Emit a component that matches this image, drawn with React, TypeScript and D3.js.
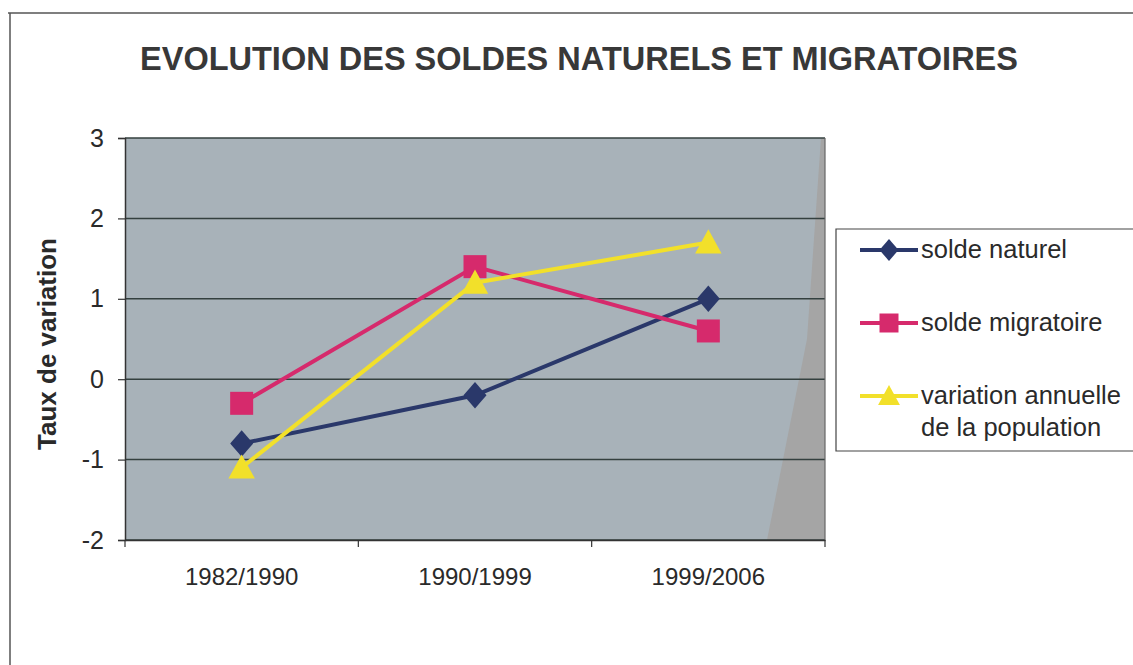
import { useEffect, useRef } from 'react';
import * as d3 from 'd3';

const periods = ['1982/1990', '1990/1999', '1999/2006'];
const soldeNaturel = [-0.8, -0.2, 1.0];
const soldeMigratoire = [-0.3, 1.4, 0.6];
const variationAnnuelle = [-1.1, 1.2, 1.7];
const yTicks = [-2, -1, 0, 1, 2, 3];

const seriesNames = ['solde naturel', 'solde migratoire', 'variation annuelle|de la population'];

// marker shapes, sized like the old Excel markers
const diamond = (r: number) => `M0,${-r * 1.15}L${r},0L0,${r * 1.15}L${-r},0Z`;
const square = (r: number) => `M${-r},${-r}H${r}V${r}H${-r}Z`;
const triangle = (r: number) => `M0,${-r * 1.15}L${r * 1.15},${r * 0.95}H${-r * 1.15}Z`;

export default function App() {
  const svgRef = useRef<SVGSVGElement>(null);

  useEffect(() => {
    const svg = d3.select(svgRef.current);
    svg.selectAll('*').remove();

    const width = 1133;
    const height = 665;
    const margin = { top: 138, right: 308, bottom: 125, left: 125 };
    const font = 'Liberation Sans, Arial, sans-serif';

    const x = d3.scaleBand<string>()
      .domain(periods)
      .range([margin.left, width - margin.right]);

    const y = d3.scaleLinear()
      .domain([-2, 3])
      .range([height - margin.bottom, margin.top]);

    // outer frame (scanned page edge)
    svg.append('path')
      .attr('d', `M8,13 H${width} M10,13 V${height}`)
      .attr('stroke', '#555')
      .attr('stroke-width', 1.5)
      .attr('fill', 'none');

    // title
    svg.append('text')
      .attr('x', 579)
      .attr('y', 70)
      .attr('text-anchor', 'middle')
      .attr('font-family', 'Liberation Sans Narrow, ' + font)
      .attr('font-weight', 'bold')
      .attr('font-size', 34)
      .attr('fill', '#383838')
      .attr('textLength', 878)
      .attr('lengthAdjust', 'spacingAndGlyphs')
      .text('EVOLUTION DES SOLDES NATURELS ET MIGRATOIRES');

    // plot background
    const x0 = margin.left;
    const x1 = width - margin.right;
    svg.append('rect')
      .attr('x', x0)
      .attr('y', y(3))
      .attr('width', x1 - x0)
      .attr('height', y(-2) - y(3))
      .attr('fill', '#a8b2b9');

    // lighter grey scan shading on the right edge
    svg.append('path')
      .attr('d', `M${x1 - 4},${y(3)} L${x1},${y(3)} L${x1},${y(-2)} L${x1 - 58},${y(-2)} L${x1 - 18},${y(0.5)} Z`)
      .attr('fill', '#a5a5a5');

    // gridlines
    svg.append('g')
      .selectAll('line')
      .data(yTicks)
      .join('line')
      .attr('x1', x0)
      .attr('x2', x1)
      .attr('y1', d => y(d))
      .attr('y2', d => y(d))
      .attr('stroke', '#34403f')
      .attr('stroke-width', 1.5);

    // right border
    svg.append('line')
      .attr('x1', x1).attr('x2', x1)
      .attr('y1', y(3)).attr('y2', y(-2))
      .attr('stroke', '#666')
      .attr('stroke-width', 1.2);

    // y axis
    const yAxis = svg.append('g')
      .attr('transform', `translate(${x0},0)`)
      .call(d3.axisLeft(y).tickValues(yTicks).tickSize(7).tickPadding(14).tickFormat(d => String(d)));
    yAxis.select('.domain').attr('stroke', '#333').attr('stroke-width', 1.5);
    yAxis.selectAll('.tick line').attr('stroke', '#333').attr('stroke-width', 1.2);
    yAxis.selectAll('.tick text')
      .attr('font-family', font)
      .attr('font-size', 25)
      .attr('fill', '#2a2a2a');

    // x axis
    const xAxis = svg.append('g')
      .attr('transform', `translate(0,${y(-2)})`)
      .call(d3.axisBottom(x).tickSize(0).tickPadding(28));
    xAxis.select('.domain').attr('stroke', '#333').attr('stroke-width', 1.5);
    xAxis.selectAll('.tick text')
      .attr('font-family', font)
      .attr('font-size', 24)
      .attr('fill', '#2a2a2a');
    // tick marks at band boundaries
    svg.append('g')
      .selectAll('line')
      .data([...periods.map(p => x(p) as number), x1])
      .join('line')
      .attr('x1', d => d).attr('x2', d => d)
      .attr('y1', y(-2)).attr('y2', y(-2) + 7)
      .attr('stroke', '#333')
      .attr('stroke-width', 1.2);

    // y title
    svg.append('text')
      .attr('transform', `translate(56,${(y(3) + y(-2)) / 2 + 5}) rotate(-90)`)
      .attr('text-anchor', 'middle')
      .attr('font-family', font)
      .attr('font-weight', 'bold')
      .attr('font-size', 26)
      .attr('fill', '#2a2a2a')
      .text('Taux de variation');

    const cx = (p: string) => (x(p) as number) + x.bandwidth() / 2;

    const series = [
      { values: soldeNaturel, color: '#2a386a', shape: diamond },
      { values: soldeMigratoire, color: '#d62a6c', shape: square },
      { values: variationAnnuelle, color: '#f2e02a', shape: triangle },
    ];

    const line = d3.line<number>()
      .x((_, i) => cx(periods[i]))
      .y(d => y(d));

    series.forEach(s => {
      svg.append('path')
        .datum(s.values)
        .attr('d', line)
        .attr('fill', 'none')
        .attr('stroke', s.color)
        .attr('stroke-width', 4);
      svg.append('g')
        .selectAll('path')
        .data(s.values)
        .join('path')
        .attr('transform', (d, i) => `translate(${cx(periods[i])},${y(d)})`)
        .attr('d', s.shape(11.5))
        .attr('fill', s.color);
    });

    // legend
    const lg = svg.append('g');
    lg.append('path')
      .attr('d', `M${width},229 H836 V451 H${width}`)
      .attr('fill', '#fff')
      .attr('stroke', '#444')
      .attr('stroke-width', 1.2);

    const rowY = [250, 323, 396];
    series.forEach((s, i) => {
      lg.append('line')
        .attr('x1', 860).attr('x2', 918)
        .attr('y1', rowY[i]).attr('y2', rowY[i])
        .attr('stroke', s.color)
        .attr('stroke-width', 4);
      lg.append('path')
        .attr('transform', `translate(889,${rowY[i]})`)
        .attr('d', s.shape(9.5))
        .attr('fill', s.color);
      const lines = seriesNames[i].split('|');
      const t = lg.append('text')
        .attr('font-family', font)
        .attr('font-size', 25.5)
        .attr('fill', '#2a2a2a');
      lines.forEach((l, j) => {
        t.append('tspan')
          .attr('x', 921)
          .attr('y', rowY[i] + 8 + j * 32)
          .text(l);
      });
    });
  }, []);

  return (
    <svg
      ref={svgRef}
      width={1133}
      height={665}
      style={{ position: 'absolute', left: 0, top: 0, background: '#fff' }}
    />
  );
}
